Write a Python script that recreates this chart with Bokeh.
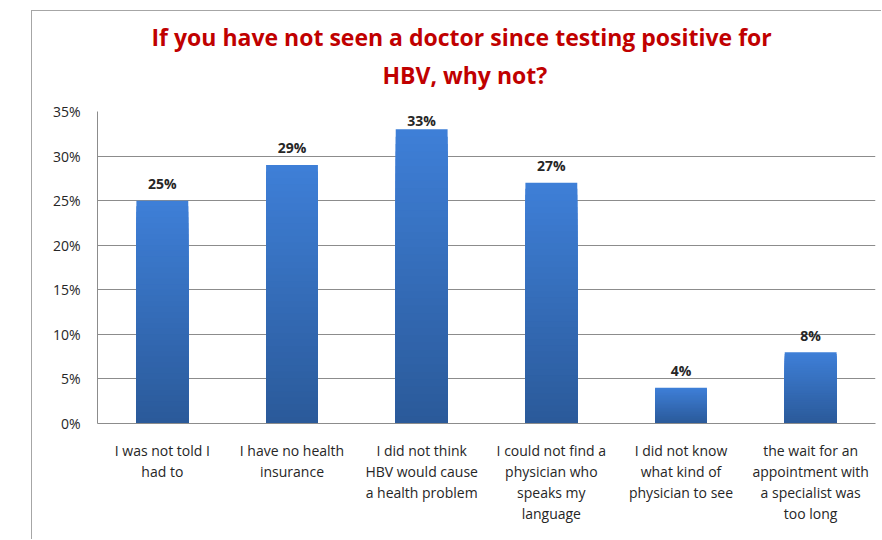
from bokeh.plotting import figure
from bokeh.models import (Range1d, NumeralTickFormatter, FixedTicker,
                          Title, LinearAxis, ColumnDataSource)
from bokeh.core.properties import value
from bokeh.embed import file_html
from bokeh.resources import INLINE

categories = [
    "I was not told I|had to",
    "I have no health|insurance",
    "I did not think|HBV would cause|a health problem",
    "I could not find a|physician who|speaks my|language",
    "I did not know|what kind of|physician to see",
    "the wait for an|appointment with|a specialist was|too long",
]
values = [25, 29, 33, 27, 4, 8]          # percent
y_ticks = [0, 5, 10, 15, 20, 25, 30, 35]
title_lines = ["If you have not seen a doctor since testing positive for", "HBV, why not?"]

FONT = "Open Sans"
GRID = "#8c8c8c"
TXT = "#262626"
Y_MAX = 35
FRAME_H = 312   # px height of plotting frame

# category slot centres on a numeric axis (slot i spans 2i..2i+2)
xs = [2 * i + 1 for i in range(len(categories))]

W, H = 850, 529   # figure size; offset by CSS margin (31 px left, 10 px top) + 1px border
p = figure(width=W, height=H, output_backend="svg", toolbar_location=None,
           x_range=Range1d(0, 2 * len(categories)),
           y_range=Range1d(0, Y_MAX),
           min_border_left=65, min_border_right=7, min_border_top=100, min_border_bottom=117,
           title=None)
p.margin = (10, 0, 0, 31)
p.styles = {"border-left": "1px solid #a6a6a6", "border-top": "1px solid #a6a6a6"}
p.background_fill_color = "white"
p.border_fill_color = "white"
p.outline_line_color = None

# gradient bars: full bar in light colour, overlaid by progressively shorter darker bars
N = 40
c_top = (0x3E, 0x7F, 0xD7)
c_bot = (0x2B, 0x5A, 0x9A)
for k in range(N):
    t = k / (N - 1)
    col = "#%02x%02x%02x" % tuple(int(round(a + (b - a) * t)) for a, b in zip(c_top, c_bot))
    frac = 1 - k / N
    src = ColumnDataSource(dict(x=xs, top=[v * frac for v in values]))
    p.vbar(x="x", bottom=0, top="top", width=0.8, source=src,
           fill_color=col, line_color=None)

# data labels: 17 px above bar, but kept inside the frame
px_per = FRAME_H / Y_MAX
offs = [-min(17.0, (Y_MAX - v) * px_per - 9) for v in values]
lab = ColumnDataSource(dict(x=xs, y=values, t=[f"{v}%" for v in values], off=offs))
p.text(x="x", y="y", text="t", source=lab, text_align="center", text_baseline="middle",
       y_offset="off", text_font=value(FONT), text_font_size="14px", text_font_style="bold",
       text_color=TXT)

# y axis
p.yaxis.ticker = FixedTicker(ticks=y_ticks)
p.yaxis.formatter = NumeralTickFormatter(format="0")
p.yaxis.major_label_overrides = {t: f"{t}%" for t in y_ticks}
p.yaxis.major_tick_line_color = None
p.yaxis.major_tick_out = 0
p.yaxis.major_tick_in = 0
p.yaxis.minor_tick_line_color = None
p.yaxis.axis_line_color = GRID
p.yaxis.major_label_text_font = FONT
p.yaxis.major_label_text_font_size = "14px"
p.yaxis.major_label_text_color = TXT
p.yaxis.major_label_standoff = 17

# x axis: one axis per text line
p.xaxis.visible = False
nlines = max(len(c.split("|")) for c in categories)
for i in range(nlines):
    ax = LinearAxis(ticker=FixedTicker(ticks=xs))
    ax.major_label_overrides = {x: (c.split("|")[i] if i < len(c.split("|")) else " ")
                                for x, c in zip(xs, categories)}
    ax.major_tick_line_color = None
    ax.major_tick_out = 0
    ax.major_tick_in = 0
    ax.minor_tick_line_color = None
    ax.axis_line_color = GRID if i == 0 else None
    ax.major_label_text_font = FONT
    ax.major_label_text_font_size = "14px"
    ax.major_label_text_color = TXT
    ax.major_label_standoff = 17 if i == 0 else -1
    p.add_layout(ax, "below")

p.xgrid.grid_line_color = None
p.ygrid.grid_line_color = GRID
p.ygrid.grid_line_width = 1

# titles
t2 = Title(text=title_lines[1], align="left", text_font=FONT, text_font_size="23px",
           text_font_style="bold", text_color="#C00000", offset=285, standoff=42)
t1 = Title(text=title_lines[0], align="left", text_font=FONT, text_font_size="23px",
           text_font_style="bold", text_color="#C00000", offset=54, standoff=-34)
p.add_layout(t2, "above")
p.add_layout(t1, "above")

open("out.html", "w").write(file_html(p, INLINE))
